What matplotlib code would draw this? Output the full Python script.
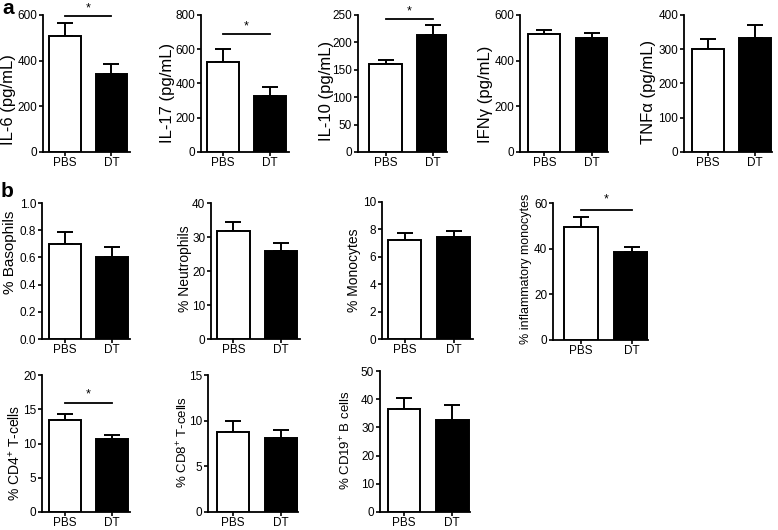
import numpy as np
import matplotlib
matplotlib.use("Agg")
import matplotlib.pyplot as plt

plt.rcParams['font.family'] = ['Liberation Sans', 'DejaVu Sans']
plt.rcParams['mathtext.fontset'] = 'custom'
plt.rcParams['mathtext.rm'] = 'Liberation Sans'
plt.rcParams['mathtext.it'] = 'Liberation Sans:italic'
plt.rcParams['mathtext.bf'] = 'Liberation Sans:bold'

groups = ["PBS", "DT"]

# panel data: label, means, upper error, y max, y tick step, significance line, star
labels = ["IL-6 (pg/mL)", "IL-17 (pg/mL)", "IL-10 (pg/mL)", "IFNγ (pg/mL)", "TNFα (pg/mL)",
          "% Basophils", "% Neutrophils", "% Monocytes", "% inflammatory monocytes",
          r"% CD4$^{+}$ T-cells", r"% CD8$^{+}$ T-cells", r"% CD19$^{+}$ B cells"]
means = [[509, 342], [524, 329], [160, 213], [515, 498], [301, 333],
         [0.70, 0.60], [31.9, 26.0], [7.23, 7.45], [49.6, 38.7],
         [13.5, 10.7], [8.73, 8.12], [36.5, 32.7]]
errs = [[55, 43], [76, 49], [8, 18], [19, 23], [30, 37],
        [0.09, 0.073], [2.5, 2.3], [0.54, 0.40], [4.1, 2.2],
        [0.85, 0.56], [1.27, 0.9], [3.9, 5.1]]
ymax = [600, 800, 250, 600, 400, 1.0, 40, 10, 60, 20, 15, 50]
ystep = [200, 200, 50, 200, 100, 0.2, 10, 2, 20, 5, 5, 10]
sig_line = [596, 689, 243, None, None, None, None, None, 57, 15.9, None, None]
sig_star = [628, 736, 256, None, None, None, None, None, 61.5, 17.2, None, None]

# axes placement in pixels: left spine, right end, top (ymax), bottom (y=0), x-limit left
layout = [(43, 130, 15, 152, -0.47), (201, 289, 15, 152, -0.47), (358, 447, 15, 152, -0.58),
          (520, 608, 15, 152, -0.52), (684, 772, 15, 152, -0.50),
          (42, 130, 203, 339, -0.49), (211, 300, 203, 339, -0.47), (382, 473, 202, 339, -0.47),
          (553, 648, 203, 340, -0.55),
          (42, 130, 375, 512, -0.49), (208, 298, 375, 512, -0.52), (380, 470, 371, 512, -0.50)]
# y label: font size, right edge (px), centre along the axis (fraction)
lab_size = [12, 12, 12, 12, 12, 11, 10, 10, 9, 10, 9.5, 9.5]
lab_x = [16, 175, 334, 493, 656, 17, 192, 361, 532, 23, 190, 353]
lab_y = [0.38, 0.43, 0.445, 0.42, 0.44, 0.64, 0.52, 0.50, 0.52, 0.43, 0.51, 0.51]

W, H = 778, 530
fig = plt.figure(figsize=(W / 100, H / 100), dpi=100)

for i in range(len(labels)):
    x0, x1, yt, yb, xlo = layout[i]
    ax = fig.add_axes([x0 / W, 1 - yb / H, (x1 - x0) / W, (yb - yt) / H])
    xs = np.arange(2)
    ax.bar(xs, means[i], width=0.68, color=["white", "black"], edgecolor="black",
           linewidth=1.4, zorder=3)
    ax.errorbar(xs, means[i], yerr=[[0, 0], errs[i]], fmt="none", ecolor="black",
                elinewidth=1.4, capsize=6, capthick=1.4, zorder=2)
    ax.set_xlim(xlo, xlo + 1.87)
    ax.set_ylim(0, ymax[i])
    ax.set_yticks(np.arange(0, ymax[i] + ystep[i] / 2, ystep[i]))
    ax.set_xticks(xs)
    ax.set_xticklabels(groups)
    for s in ["top", "right"]:
        ax.spines[s].set_visible(False)
    for s in ["left", "bottom"]:
        ax.spines[s].set_linewidth(1.3)
    ax.tick_params(axis="both", direction="out", length=3, width=1.2, labelsize=8.5)
    ax.tick_params(axis="x", pad=0.8)
    ax.tick_params(axis="y", pad=1.2)
    ax.set_ylabel(labels[i], fontsize=lab_size[i])
    ax.yaxis.set_label_coords((lab_x[i] - x0) / (x1 - x0), lab_y[i])
    if sig_line[i] is not None:
        ax.plot([0, 1], [sig_line[i]] * 2, color="black", lw=1.3, clip_on=False)
        ax.text(0.5, sig_star[i], "*", ha="center", va="center", fontsize=9, clip_on=False)

fig.text(2 / W, 1 - 14 / H, "a", fontsize=15, fontweight="bold", va="baseline")
fig.text(1 / W, 1 - 197 / H, "b", fontsize=15, fontweight="bold", va="baseline")

fig.savefig("out.png", dpi=100)
